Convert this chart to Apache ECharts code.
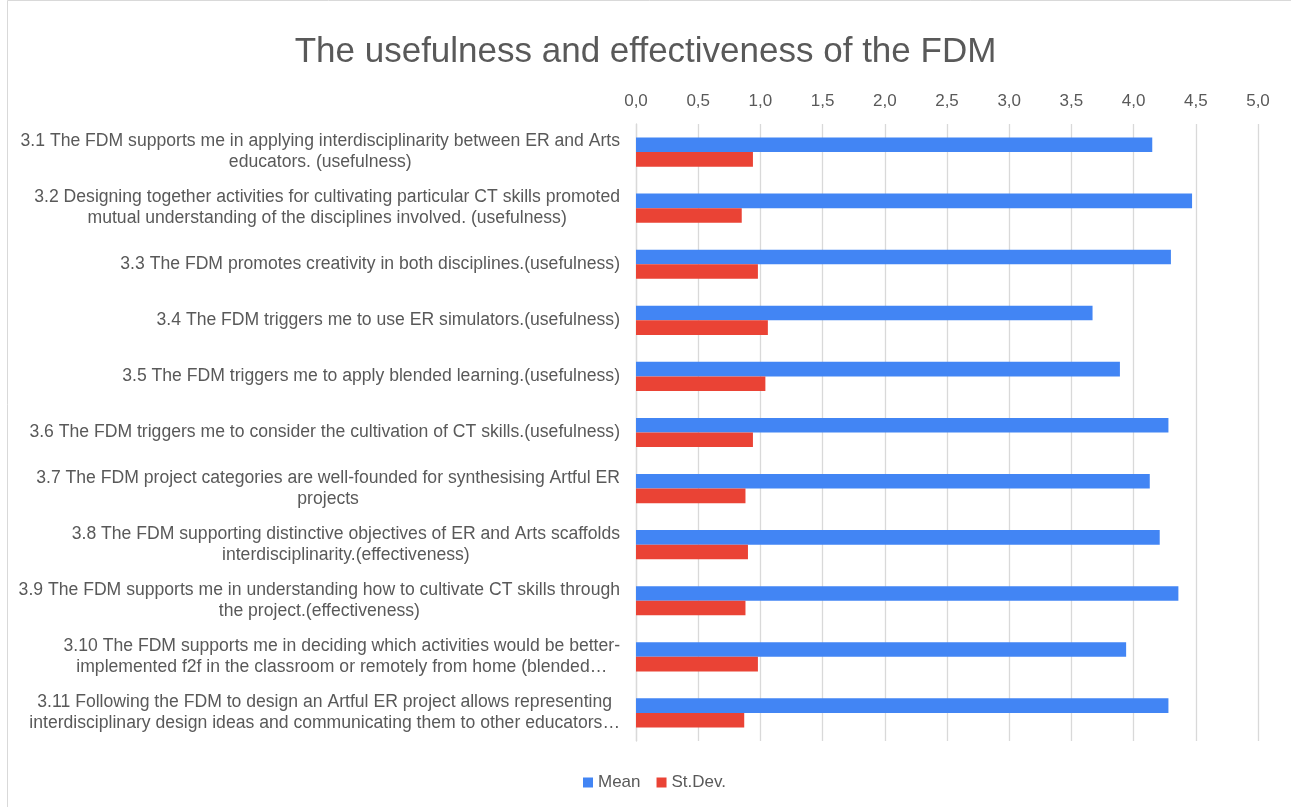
<!DOCTYPE html>
<html>
<head>
<meta charset="utf-8">
<script src="https://cdn.jsdelivr.net/npm/echarts@6/dist/echarts.min.js"></script>
<style>
html,body{margin:0;padding:0;background:#fff;}
#chart{width:1291px;height:807px;}
</style>
</head>
<body>
<div id="chart"></div>
<script>
const categories = [
  "3.1 The FDM supports me in applying interdisciplinarity between ER and Arts\neducators. (usefulness)",
  "3.2 Designing together activities for cultivating particular CT skills promoted\nmutual understanding of the disciplines involved. (usefulness)",
  "3.3 The FDM promotes creativity in both disciplines.(usefulness)",
  "3.4 The FDM triggers me to use ER simulators.(usefulness)",
  "3.5 The FDM triggers me to apply blended learning.(usefulness)",
  "3.6 The FDM triggers me to consider the cultivation of CT skills.(usefulness)",
  "3.7 The FDM project categories are well-founded for synthesising Artful ER\nprojects",
  "3.8 The FDM supporting distinctive objectives of ER and Arts scaffolds\ninterdisciplinarity.(effectiveness)",
  "3.9 The FDM supports me in understanding how to cultivate CT skills through\nthe project.(effectiveness)",
  "3.10 The FDM supports me in deciding which activities would be better-\nimplemented f2f in the classroom or remotely from home (blended…",
  "3.11 Following the FDM to design an Artful ER project allows representing\ninterdisciplinary design ideas and communicating them to other educators…"
];
const meanValues  = [4.15, 4.47, 4.30, 3.67, 3.89, 4.28, 4.13, 4.21, 4.36, 3.94, 4.28];
const stdevValues = [0.94, 0.85, 0.98, 1.06, 1.04, 0.94, 0.88, 0.90, 0.88, 0.98, 0.87];
const seriesNames = ["Mean", "St.Dev."];
const titleText = "The usefulness and effectiveness of the FDM";

const FONT = "'Liberation Sans', Arial, sans-serif";
const TXT = "#595959";
const LBL = 17.6;

const chart = echarts.init(document.getElementById('chart'), null, {renderer: 'canvas'});
chart.setOption({
  backgroundColor: '#ffffff',
  animation: false,
  graphic: [{
    type: 'rect', left: 5, top: -2, silent: true,
    shape: {width: 1300, height: 820},
    style: {fill: 'none', stroke: '#d9d9d9', lineWidth: 1}
  }],
  title: {
    text: titleText,
    left: 'center',
    top: 30,
    textStyle: {color: TXT, fontFamily: FONT, fontSize: 35, fontWeight: 'normal'}
  },
  legend: {
    data: seriesNames,
    bottom: 11,
    left: 578,
    itemWidth: 10, itemHeight: 10, itemGap: 16,
    icon: 'rect',
    textStyle: {color: TXT, fontFamily: FONT, fontSize: 17}
  },
  grid: {left: 636, right: 33, top: 124, bottom: 66, containLabel: false},
  xAxis: {
    type: 'value',
    position: 'top',
    min: 0, max: 5, interval: 0.5,
    axisLine: {show: false},
    axisTick: {show: false},
    splitLine: {show: true, lineStyle: {color: '#d9d9d9', width: 1.3}},
    axisLabel: {
      color: TXT, fontFamily: FONT, fontSize: 17, margin: 14,
      formatter: v => v.toFixed(1).replace('.', ',')
    }
  },
  yAxis: {
    type: 'category',
    inverse: true,
    data: categories,
    axisLine: {show: true, lineStyle: {color: '#d9d9d9', width: 1.3}},
    axisTick: {show: false},
    axisLabel: {
      margin: 16,
      color: TXT, fontFamily: FONT, fontSize: LBL, lineHeight: 21,
      formatter: v => v.split('\n').map(l => '{c|' + l + '}').join('\n'),
      rich: {c: {align: 'center', color: TXT, fontFamily: FONT, fontSize: LBL, lineHeight: 21}}
    }
  },
  series: [
    {name: seriesNames[0], type: 'bar', data: meanValues, barGap: '0%', barCategoryGap: '48%',
     itemStyle: {color: '#4285f4'}},
    {name: seriesNames[1], type: 'bar', data: stdevValues, barGap: '0%', barCategoryGap: '48%',
     itemStyle: {color: '#ea4335'}}
  ]
});
</script>
</body>
</html>
